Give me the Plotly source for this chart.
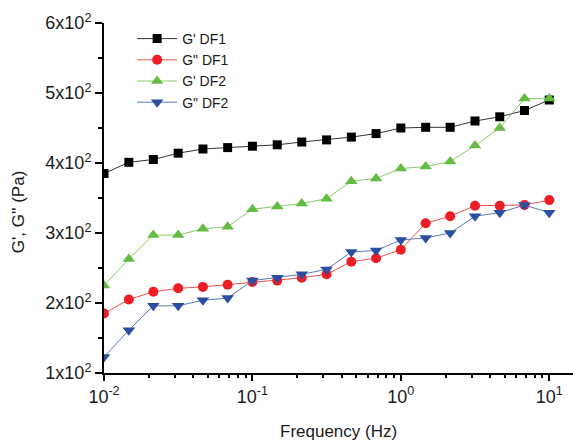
import plotly.graph_objects as go

freq = [0.01, 0.0147, 0.0215, 0.0316, 0.0464, 0.0681, 0.1, 0.147, 0.215, 0.316,
        0.464, 0.681, 1.0, 1.47, 2.15, 3.16, 4.64, 6.81, 10.0]

g1_df1 = [385, 401, 405, 414, 420, 422, 424, 426, 430, 433,
          437, 442, 450, 451, 451, 460, 466, 475, 490]
g2_df1 = [185, 205, 216, 221, 223, 226, 230, 232, 236, 241,
          259, 264, 276, 314, 324, 339, 339, 340, 347]
g1_df2 = [225, 263, 297, 297, 306, 309, 334, 338, 342, 349,
          374, 378, 392, 395, 402, 425, 450, 492, 492]
g2_df2 = [123, 161, 196, 196, 204, 207, 232, 236, 241, 248,
          273, 275, 290, 293, 300, 324, 329, 340, 329]

names = ["G' DF1", "G\" DF1", "G' DF2", "G\" DF2"]

ytickvals = [100, 200, 300, 400, 500, 600]
yticktext = ["1x10<sup>2</sup>", "2x10<sup>2</sup>", "3x10<sup>2</sup>",
             "4x10<sup>2</sup>", "5x10<sup>2</sup>", "6x10<sup>2</sup>"]
xtickvals = [0.01, 0.1, 1, 10]
xticktext = ["10<sup>-2</sup>", "10<sup>-1</sup>", "10<sup>0</sup>", "10<sup>1</sup>"]

fig = go.Figure()
styles = [
    dict(sym="square", mc="#000000", lc="#333333", size=9),
    dict(sym="circle", mc="#ee1c24", lc="#f05050", size=10),
    dict(sym="triangle-up", mc="#66bb44", lc="#88cc66", size=11),
    dict(sym="triangle-down", mc="#2a4ea0", lc="#5a78bb", size=11),
]
for ys, nm, st in zip([g1_df1, g2_df1, g1_df2, g2_df2], names, styles):
    fig.add_trace(go.Scatter(
        x=freq, y=ys, name=nm, mode="lines+markers",
        line=dict(color=st["lc"], width=1),
        marker=dict(symbol=st["sym"], color=st["mc"], size=st["size"], line=dict(width=0)),
    ))

font = "Liberation Sans, Arial, sans-serif"
fig.update_layout(
    width=573, height=441,
    margin=dict(l=104, r=0, t=23, b=68),
    paper_bgcolor="white", plot_bgcolor="white",
    font=dict(family=font, size=17, color="#1a1a1a"),
    showlegend=True,
    legend=dict(x=0.06, y=1.0, xanchor="left", yanchor="top",
                bgcolor="rgba(0,0,0,0)", font=dict(size=14, color="#1a1a1a"),
                tracegroupgap=0, itemwidth=40),
    xaxis=dict(type="log", range=[-2, 1.16], showgrid=False, zeroline=False,
               showline=True, linecolor="black", linewidth=2,
               ticks="outside", ticklen=6, tickwidth=1.5, tickcolor="black",
               tickvals=xtickvals, ticktext=xticktext,
               minor=dict(ticks="outside", ticklen=3, tickwidth=1.5, tickcolor="black",
                          dtick="D1", showgrid=False),
               tickfont=dict(size=18)),
    yaxis=dict(range=[100, 600], showgrid=False, zeroline=False,
               showline=True, linecolor="black", linewidth=2,
               ticks="outside", ticklen=7, tickwidth=1.5, tickcolor="black",
               tickvals=ytickvals, ticktext=yticktext,
               minor=dict(ticks="outside", ticklen=4, tickwidth=1.5, tickcolor="black",
                          tickvals=[150, 250, 350, 450, 550], showgrid=False),
               tickfont=dict(size=18)),
    annotations=[
        dict(text="G', G'' (Pa)", textangle=-90, xref="paper", yref="paper",
             x=-0.183, y=0.46, xanchor="center", yanchor="middle", showarrow=False,
             font=dict(size=17)),
        dict(text="Frequency (Hz)", xref="paper", yref="paper",
             x=0.501, y=-0.166, xanchor="center", yanchor="middle", showarrow=False,
             font=dict(size=17)),
    ],
)

fig.write_html("out.html", config={"displayModeBar": False},
               post_script="document.body.style.margin='0';document.body.style.padding='0';")
